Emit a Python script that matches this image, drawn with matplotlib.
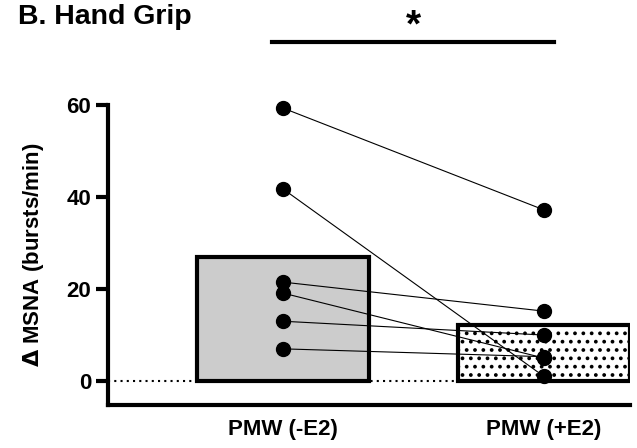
import matplotlib
matplotlib.use('Agg')
from matplotlib import pyplot as plt
import numpy as np

plt.rcParams['font.family'] = ['Liberation Sans', 'DejaVu Sans']
plt.rcParams['font.weight'] = 'bold'
plt.rcParams['hatch.linewidth'] = 1.5
plt.rcParams['mathtext.fontset'] = 'dejavusans'

groups = ["PMW (-E2)", "PMW (+E2)"]
before = [59.3, 41.7, 21.5, 19.1, 13.0, 7.0]
after = [37.2, 1.0, 15.2, 5.0, 10.0, 5.3]
y_ticks = [0, 20, 40, 60]

means = [np.mean(before), np.mean(after)]

fig = plt.figure(figsize=(6.37, 4.48), dpi=100)
ax = fig.add_axes([0.1695, 0.096, 0.8195, 0.6696])

bars = ax.bar([0, 1], means, width=0.66, edgecolor='black', linewidth=3, zorder=1)
bars[0].set_facecolor('#cccccc')
bars[1].set_facecolor('white')
bars[1].set_hatch('..')

# paired subjects
for b, a in zip(before, after):
    ax.plot([0, 1], [b, a], color='black', lw=0.8, zorder=2, clip_on=False)
ax.plot(np.zeros(len(before)), before, 'o', color='black', ms=10, zorder=3, clip_on=False)
ax.plot(np.ones(len(after)), after, 'o', color='black', ms=10, zorder=3, clip_on=False)

ax.axhline(0, color='black', lw=1.5, ls=(0, (1, 2)), zorder=2)

ax.set_xlim(-0.673, 1.33)
ax.set_ylim(-5.2, 60)
ax.set_yticks(y_ticks)
ax.set_xticks([0, 1])
ax.set_xticklabels(groups, fontsize=16, fontweight='bold')
ax.tick_params(axis='x', length=0, pad=10)
ax.tick_params(axis='y', length=9, width=3, labelsize=16, pad=3)
for lab in ax.get_yticklabels():
    lab.set_fontweight('bold')
ax.set_ylabel(r"$\Delta$ MSNA (bursts/min)", fontsize=16, fontweight='bold', labelpad=15)

for s in ['top', 'right']:
    ax.spines[s].set_visible(False)
for s in ['left', 'bottom']:
    ax.spines[s].set_linewidth(3)

# significance bar
ax.plot([-0.042, 1.04], [73.7, 73.7], color='black', lw=3, clip_on=False)
ax.text(0.5, 75.0, "*", ha='center', va='baseline', fontsize=28, fontweight='bold')

fig.text(0.028, 0.99, "B. Hand Grip", ha='left', va='top', fontsize=20.5, fontweight='bold')

fig.savefig('out.png', dpi=100)
